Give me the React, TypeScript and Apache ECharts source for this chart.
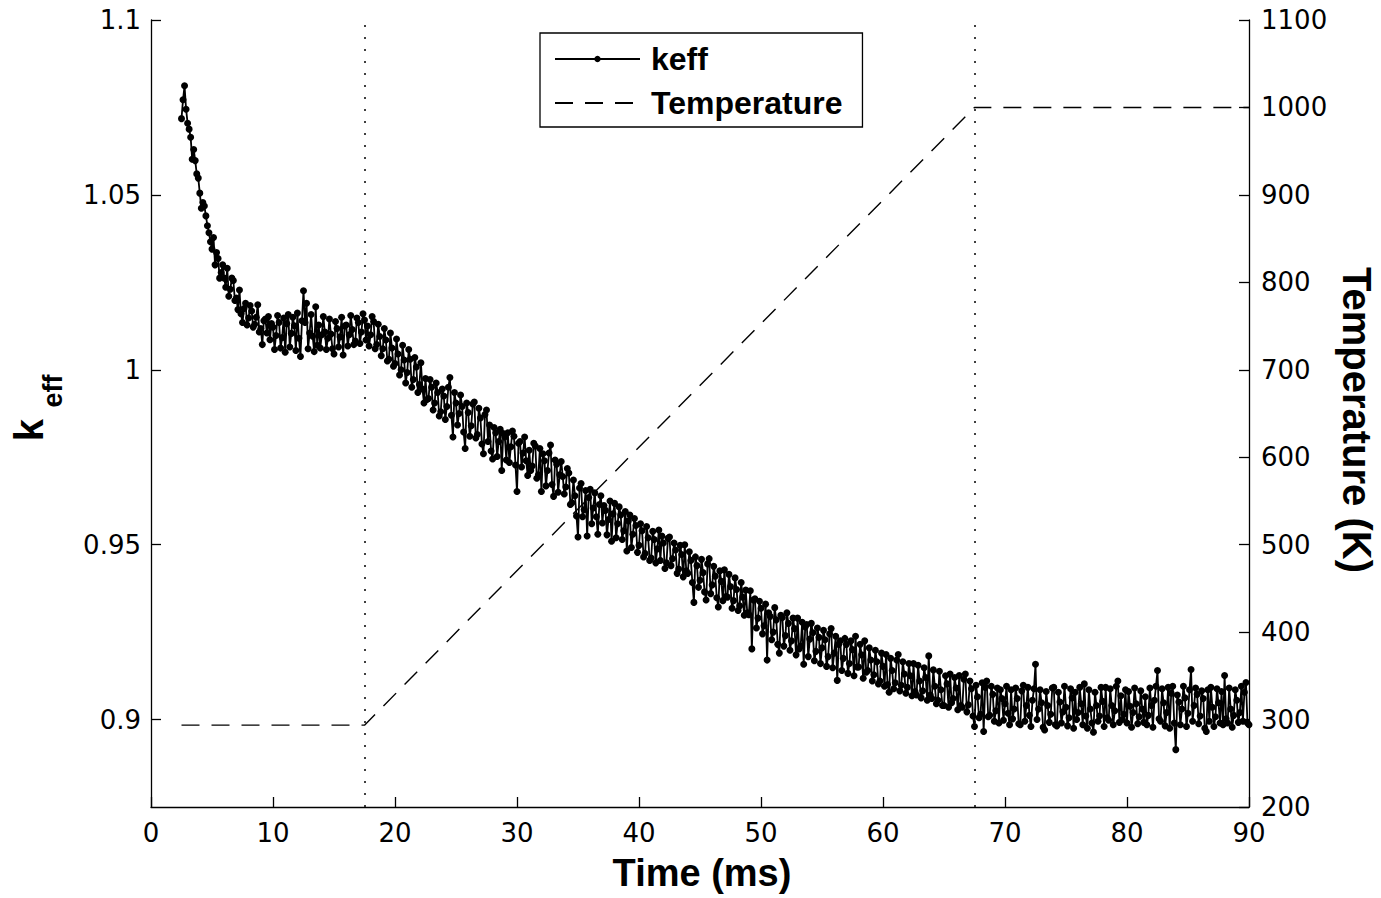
import React, { useEffect, useRef } from "react";
import * as echarts from "echarts";

// ---- data ----
const xTicksMax = 90;
const keffTicks = [0.9, 0.95, 1, 1.05, 1.1];
const keffStartMs = 2.5;
const keffStepMs = 0.125;
const keffValues = [
  // 2.5 - 9.875 ms
  1.0718, 1.0772, 1.0812, 1.0745, 1.0705, 1.0688, 1.0665, 1.0602, 1.063, 1.0598,
  1.056, 1.0548, 1.0505, 1.0462, 1.0478, 1.0468, 1.044, 1.0412, 1.0392, 1.0366,
  1.0345, 1.0378, 1.03, 1.0335, 1.0318, 1.0262, 1.0278, 1.03, 1.0262, 1.0236,
  1.029, 1.021, 1.023, 1.0262, 1.0255, 1.0198, 1.0205, 1.0172, 1.0228, 1.016,
  1.0135, 1.0175, 1.019, 1.0128, 1.0148, 1.0184, 1.0168, 1.0122, 1.013, 1.015,
  1.0186, 1.0108, 1.0118, 1.0072, 1.014, 1.0145, 1.0105, 1.0152, 1.0086, 1.0132,
  // 10 - 17.625 ms
  1.0122, 1.0058, 1.0098, 1.0155, 1.0135, 1.0062, 1.0092, 1.0148, 1.005, 1.0132,
  1.0158, 1.0065, 1.0104, 1.015, 1.0126, 1.0055, 1.0162, 1.009, 1.0038, 1.014,
  1.0226, 1.0135, 1.019, 1.006, 1.0105, 1.0158, 1.0096, 1.0052, 1.018, 1.007,
  1.0128, 1.0062, 1.01, 1.0152, 1.0108, 1.0058, 1.009, 1.0145, 1.0102, 1.006,
  1.0045, 1.0138, 1.0118, 1.0065, 1.0094, 1.015, 1.0042, 1.0125, 1.0128, 1.0068,
  1.01, 1.0155, 1.0115, 1.0072, 1.0082, 1.0148, 1.0135, 1.0075, 1.0108, 1.016,
  1.0142, 1.0085,
  // 17.75 - 22.625 ms
  1.0125, 1.0068, 1.01, 1.0152, 1.0138, 1.006, 1.0072, 1.013, 1.0095, 1.004,
  1.006, 1.0118, 1.0085, 1.0025, 1.003, 1.0105, 1.0062, 1.001, 1.0018, 1.0088,
  1.0045, 0.9985, 1.0, 1.007, 1.0028, 0.9962, 0.9992, 1.0058, 1.003, 0.995,
  0.9972, 1.0035, 1.0008, 0.9935, 0.9958, 1.002, 0.9945, 0.9905, 0.9975, 0.9915,
  // 22.75 - 27.625 ms
  0.9918, 0.9972, 0.995, 0.9885, 0.9905, 0.9962, 0.9935, 0.9868, 0.988, 0.9945,
  0.9925, 0.9858, 0.9895, 0.995, 0.9978, 0.987, 0.9808, 0.9935, 0.9905, 0.9842,
  0.9875, 0.9928, 0.9895, 0.9822, 0.9775, 0.9905, 0.9878, 0.981, 0.984, 0.9902,
  0.9908, 0.9805, 0.9815, 0.989, 0.9862, 0.9788, 0.976, 0.9872, 0.9885, 0.9795,
  // 27.75 - 33.875 ms
  0.9842, 0.9768, 0.9745, 0.9835, 0.982, 0.9752, 0.9795, 0.983, 0.9712, 0.9818,
  0.9808, 0.9742, 0.982, 0.9735, 0.978, 0.9825, 0.981, 0.9728, 0.9652, 0.979,
  0.9795, 0.9722, 0.9762, 0.9808, 0.974, 0.9698, 0.977, 0.9712, 0.9725, 0.979,
  0.9782, 0.969, 0.97, 0.9775, 0.9652, 0.976, 0.974, 0.9668, 0.9712, 0.9762,
  0.9785, 0.9672, 0.9638, 0.9742, 0.973, 0.965, 0.97, 0.9738, 0.9695, 0.9645,
  // 34 - 38.875 ms
  0.9665, 0.9718, 0.9705, 0.9615, 0.962, 0.9685, 0.964, 0.9582, 0.9522, 0.9662,
  0.9675, 0.958, 0.96, 0.9655, 0.9525, 0.9635, 0.9658, 0.956, 0.9605, 0.9648,
  0.958, 0.953, 0.9615, 0.964, 0.9562, 0.9612, 0.9598, 0.9528, 0.9572, 0.9625,
  0.951, 0.9588, 0.9618, 0.952, 0.956, 0.9608, 0.9585, 0.9515, 0.954, 0.9595,
  // 39 - 48.875 ms
  0.9482, 0.9568, 0.9585, 0.9492, 0.953, 0.9575, 0.9555, 0.9478, 0.9498, 0.956,
  0.954, 0.9465, 0.9475, 0.9552, 0.952, 0.9455, 0.9462, 0.9538, 0.9515, 0.9448,
  0.9488, 0.9542, 0.9455, 0.9525, 0.9505, 0.9432, 0.9448, 0.9518, 0.9522, 0.944,
  0.946, 0.9505, 0.9485, 0.9418, 0.943, 0.9498, 0.9472, 0.9408, 0.95, 0.9425,
  0.9418, 0.948, 0.9455, 0.9392, 0.9335, 0.9465, 0.944, 0.9378, 0.9398, 0.9458,
  0.942, 0.9365, 0.9342, 0.9445, 0.946, 0.936, 0.9385, 0.9438, 0.941, 0.9348,
  0.9322, 0.9425, 0.9395, 0.934, 0.9428, 0.9352, 0.935, 0.9415, 0.938, 0.9318,
  0.934, 0.9405, 0.9372, 0.9312, 0.9325, 0.9392, 0.935, 0.9298, 0.937, 0.9305,
  // 49 - 59.875 ms
  0.93, 0.9368, 0.9202, 0.9342, 0.9345, 0.9262, 0.929, 0.9338, 0.9318, 0.9245,
  0.9268, 0.933, 0.917, 0.9305, 0.9295, 0.9228, 0.925, 0.932, 0.9285, 0.9215,
  0.919, 0.9298, 0.9292, 0.921, 0.924, 0.9305, 0.9275, 0.9198, 0.9225, 0.929,
  0.926, 0.9185, 0.929, 0.9202, 0.921, 0.9278, 0.9158, 0.9265, 0.9272, 0.918,
  0.923, 0.9275, 0.9248, 0.9168, 0.9195, 0.9262, 0.9235, 0.916, 0.9205, 0.9255,
  0.9228, 0.9152, 0.918, 0.9245, 0.926, 0.9148, 0.919, 0.9238, 0.9112, 0.9215,
  0.9225, 0.914, 0.9175, 0.9232, 0.9215, 0.9132, 0.916, 0.9225, 0.92, 0.9125,
  0.9238, 0.915, 0.915, 0.9215, 0.9185, 0.9118, 0.9225, 0.9135, 0.914, 0.9205,
  0.917, 0.911, 0.9128, 0.9198, 0.9165, 0.9102, 0.911, 0.919,
  // 60 - 69.875 ms
  0.9152, 0.9095, 0.9186, 0.91, 0.9078, 0.9175, 0.914, 0.9088, 0.9105, 0.917,
  0.9186, 0.9082, 0.9098, 0.9165, 0.913, 0.9075, 0.9092, 0.916, 0.9125, 0.9068,
  0.916, 0.908, 0.907, 0.9155, 0.911, 0.9062, 0.9082, 0.9148, 0.912, 0.9055,
  0.9182, 0.907, 0.906, 0.9142, 0.9095, 0.9045, 0.9055, 0.9138, 0.9085, 0.904,
  0.904, 0.9125, 0.9102, 0.9035, 0.913, 0.9048, 0.906, 0.912, 0.909, 0.9028,
  0.9126, 0.904, 0.9035, 0.9115, 0.913, 0.9022, 0.9042, 0.911, 0.9088, 0.901,
  0.898, 0.9098, 0.9065, 0.9005, 0.9015, 0.9105, 0.8966, 0.9092, 0.911, 0.9008,
  0.9012, 0.9095, 0.9072, 0.8995, 0.9025, 0.909, 0.899, 0.9085, 0.906, 0.8998,
  // 70 - 90 ms
  0.9045, 0.9095, 0.9018, 0.8985, 0.9085, 0.9002, 0.903, 0.909, 0.906, 0.8988,
  0.8985, 0.9082, 0.9098, 0.8995, 0.904, 0.9092, 0.9012, 0.898, 0.9055, 0.9088,
  0.9158, 0.9, 0.903, 0.9085, 0.9048, 0.8978, 0.897, 0.908, 0.904, 0.8992,
  0.9015, 0.909, 0.9092, 0.8985, 0.8982, 0.9078, 0.905, 0.899, 0.9022, 0.9095,
  0.9035, 0.8982, 0.9005, 0.9088, 0.9062, 0.8975, 0.9078, 0.9, 0.902, 0.9092,
  0.9045, 0.8985, 0.9102, 0.901, 0.8975, 0.9085, 0.903, 0.899, 0.8964, 0.9078,
  0.904, 0.8995, 0.901, 0.9092, 0.9052, 0.898, 0.9092, 0.9005, 0.8998, 0.9088,
  0.904, 0.8985, 0.9025, 0.9095, 0.911, 0.8992, 0.9068, 0.9, 0.9015, 0.9085,
  0.899, 0.908, 0.9038, 0.8978, 0.902, 0.909, 0.9045, 0.8988, 0.9008, 0.9082,
  0.903, 0.8992, 0.9065, 0.8985, 0.9012, 0.909, 0.904, 0.8978, 0.9055, 0.9095,
  0.914, 0.9002, 0.8995, 0.9088, 0.9048, 0.8982, 0.902, 0.9092, 0.8975, 0.9075,
  0.9095, 0.899, 0.8914, 0.907, 0.905, 0.8985, 0.903, 0.9095, 0.9062, 0.898,
  0.9018, 0.9085, 0.9143, 0.8995, 0.904, 0.909, 0.9072, 0.8988, 0.901, 0.9082,
  0.906, 0.8975, 0.8966, 0.9085, 0.8995, 0.9092, 0.9035, 0.898, 0.9008, 0.9088,
  0.9048, 0.899, 0.908, 0.8985, 0.9126, 0.9002, 0.899, 0.909, 0.903, 0.8978,
  0.9012, 0.9085, 0.9055, 0.8992, 0.902, 0.9095, 0.8995, 0.9078, 0.9106, 0.899,
  0.8985,
];
const tempTimes = [2.5, 17.5, 67.5, 90];
const tempValues = [293.6, 293.6, 1000, 1000];
const eventTimes = [17.5, 67.5];

const FONT = "'Liberation Sans', Arial, Helvetica, sans-serif";
const TICK_FONT = "'DejaVu Sans', 'Liberation Sans', sans-serif";

export default function App() {
  const ref = useRef<HTMLDivElement>(null);
  useEffect(() => {
    const chart = echarts.init(ref.current as HTMLDivElement, null, { renderer: "svg" });
    const keffData = keffValues.map((v, i) => [keffStartMs + i * keffStepMs, v]);
    const tempData = tempTimes.map((t, i) => [t, tempValues[i]]);
    const axisLineStyle = { color: "#000", width: 1.3 };
    const labelStyle = { color: "#000", fontSize: 26, fontFamily: TICK_FONT };
    chart.setOption({
      animation: false,
      backgroundColor: "#fff",
      grid: { left: 151, right: 132, top: 20, bottom: 91, outerBoundsMode: "none" },
      legend: {
        left: 540,
        top: 33,
        orient: "vertical",
        itemWidth: 85,
        itemHeight: 8,
        itemGap: 8,
        padding: [8, 20, 6, 14],
        borderColor: "#000",
        borderWidth: 1.3,
        backgroundColor: "#fff",
        selectedMode: false,
        data: [
          { name: "keff" },
          { name: "Temperature", itemStyle: { opacity: 0 } },
        ],
        textStyle: {
          fontSize: 32,
          fontWeight: "bold",
          fontFamily: FONT,
          color: "#000",
          lineHeight: 36,
          padding: [0, 0, 0, 6],
        },
      },
      xAxis: {
        type: "value",
        min: 0,
        max: xTicksMax,
        interval: 10,
        axisLine: { show: true, lineStyle: axisLineStyle },
        axisTick: { show: true, inside: true, length: 10, lineStyle: axisLineStyle },
        axisLabel: { ...labelStyle, margin: 13, formatter: (v: number) => String(v) },
        splitLine: { show: false },
      },
      yAxis: [
        {
          type: "value",
          min: 0.875,
          max: 1.1,
          position: "left",
          axisLine: { show: true, lineStyle: axisLineStyle },
          axisTick: { show: true, inside: true, length: 10, lineStyle: axisLineStyle, customValues: keffTicks },
          axisLabel: {
            ...labelStyle,
            margin: 10,
            customValues: keffTicks,
            formatter: (v: number) => String(+v.toFixed(3)),
          },
          splitLine: { show: false },
        },
        {
          type: "value",
          min: 200,
          max: 1100,
          interval: 100,
          position: "right",
          axisLine: { show: true, lineStyle: axisLineStyle },
          axisTick: { show: true, inside: true, length: 10, lineStyle: axisLineStyle },
          axisLabel: { ...labelStyle, margin: 12, formatter: (v: number) => String(v) },
          splitLine: { show: false },
        },
      ],
      series: [
        {
          name: "keff",
          type: "line",
          yAxisIndex: 0,
          data: keffData,
          symbol: "circle",
          symbolSize: 7,
          showSymbol: true,
          showAllSymbol: true,
          lineStyle: { color: "#000", width: 1.8 },
          itemStyle: { color: "#000" },
          emphasis: { disabled: true },
          z: 3,
          markLine: {
            silent: true,
            symbol: ["none", "none"],
            label: { show: false },
            lineStyle: { color: "#000", type: [2, 10], width: 1.5 },
            emphasis: { disabled: true },
            data: eventTimes.map((t) => ({ xAxis: t })),
          },
        },
        {
          name: "Temperature",
          type: "line",
          yAxisIndex: 1,
          data: tempData,
          symbol: "none",
          lineStyle: { color: "#000", width: 1.4, type: [18, 12] },
          itemStyle: { color: "#000" },
          emphasis: { disabled: true },
          z: 2,
        },
      ],
      graphic: [
        {
          type: "text",
          x: 702,
          y: 873,
          style: { text: "Time (ms)", fontSize: 38, fontWeight: "bold", fontFamily: FONT, fill: "#000", align: "center", verticalAlign: "middle" },
        },
        {
          type: "text",
          x: 1357,
          y: 420,
          rotation: -Math.PI / 2,
          style: { text: "Temperature (K)", fontSize: 40, fontWeight: "bold", fontFamily: FONT, fill: "#000", align: "center", verticalAlign: "middle" },
        },
        {
          type: "text",
          x: 29,
          y: 430,
          rotation: Math.PI / 2,
          style: { text: "k", fontSize: 40, fontWeight: "bold", fontFamily: FONT, fill: "#000", align: "center", verticalAlign: "middle" },
        },
        {
          type: "text",
          x: 53,
          y: 391,
          rotation: Math.PI / 2,
          style: { text: "eff", fontSize: 27, fontWeight: "bold", fontFamily: FONT, fill: "#000", align: "center", verticalAlign: "middle" },
        },
      ],
    });
    return () => chart.dispose();
  }, []);
  return (
    <div
      ref={ref}
      style={{ position: "fixed", left: 0, top: 0, width: 1381, height: 898, background: "#fff" }}
    />
  );
}
